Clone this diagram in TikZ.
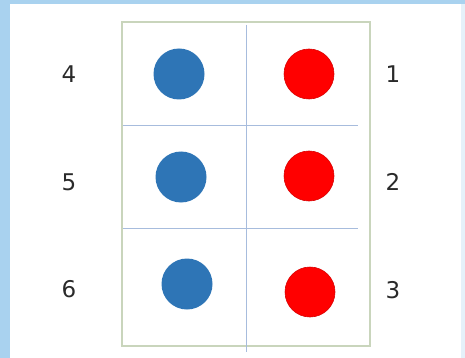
\documentclass[tikz,border=0pt]{standalone}
\usepackage{fontspec}
\setmainfont{DejaVu Sans}
\definecolor{bgblue}{HTML}{A9D2EF}
\definecolor{frame}{HTML}{C9D5BC}
\definecolor{gridline}{HTML}{A7BCDD}
\definecolor{dotblue}{HTML}{2E75B6}
\definecolor{dotred}{HTML}{FF0000}
\definecolor{digit}{HTML}{2A2A2A}
\begin{document}
\begin{tikzpicture}[x=1pt,y=-1pt,
  dotb/.style={circle,fill=dotblue,inner sep=0pt,minimum size=51pt},
  dotr/.style={circle,fill=dotred,draw=dotred!85!black,line width=0.6pt,inner sep=0pt,minimum size=50pt},
  num/.style={font=\fontsize{23}{26}\selectfont,text=digit,inner sep=0pt}]
\useasboundingbox (0,0) rectangle (465,358);
\fill[bgblue] (0,0) rectangle (465,358);
\fill[white] (10,4) rectangle (461,358);
\fill[bgblue!30] (461,4) rectangle (465,358);
% frame
\draw[frame,line width=1.2pt] (122,22) rectangle (370,346);
% grid lines
\coordinate (vt) at (246,25);
\coordinate (vb) at (246,352);
\draw[gridline,line width=0.8pt] (vt) -- (vb);
\coordinate (h1l) at (123,126);
\coordinate (h1r) at (358,126);
\coordinate (h2l) at (123,228);
\coordinate (h2r) at (358,228);
\draw[gridline,line width=1pt] (h1l) -- (h1r);
\draw[gridline,line width=1pt] (h2l) -- (h2r);
% dots
\node[dotb] (b1) at (179,74) {};
\node[dotr] (r1) at (309,74) {};
\node[dotb] (b2) at (181,177) {};
\node[dotr] (r2) at (309,176) {};
\node[dotb] (b3) at (187,284) {};
\node[dotr] (r3) at (310,292) {};
% labels
\node[num] (n4) at (69,74) {4};
\node[num] (n1) at (393,74) {1};
\node[num] (n5) at (69,182) {5};
\node[num] (n2) at (393,182) {2};
\node[num] (n6) at (69,289) {6};
\node[num] (n3) at (393,290) {3};
\end{tikzpicture}
\end{document}
